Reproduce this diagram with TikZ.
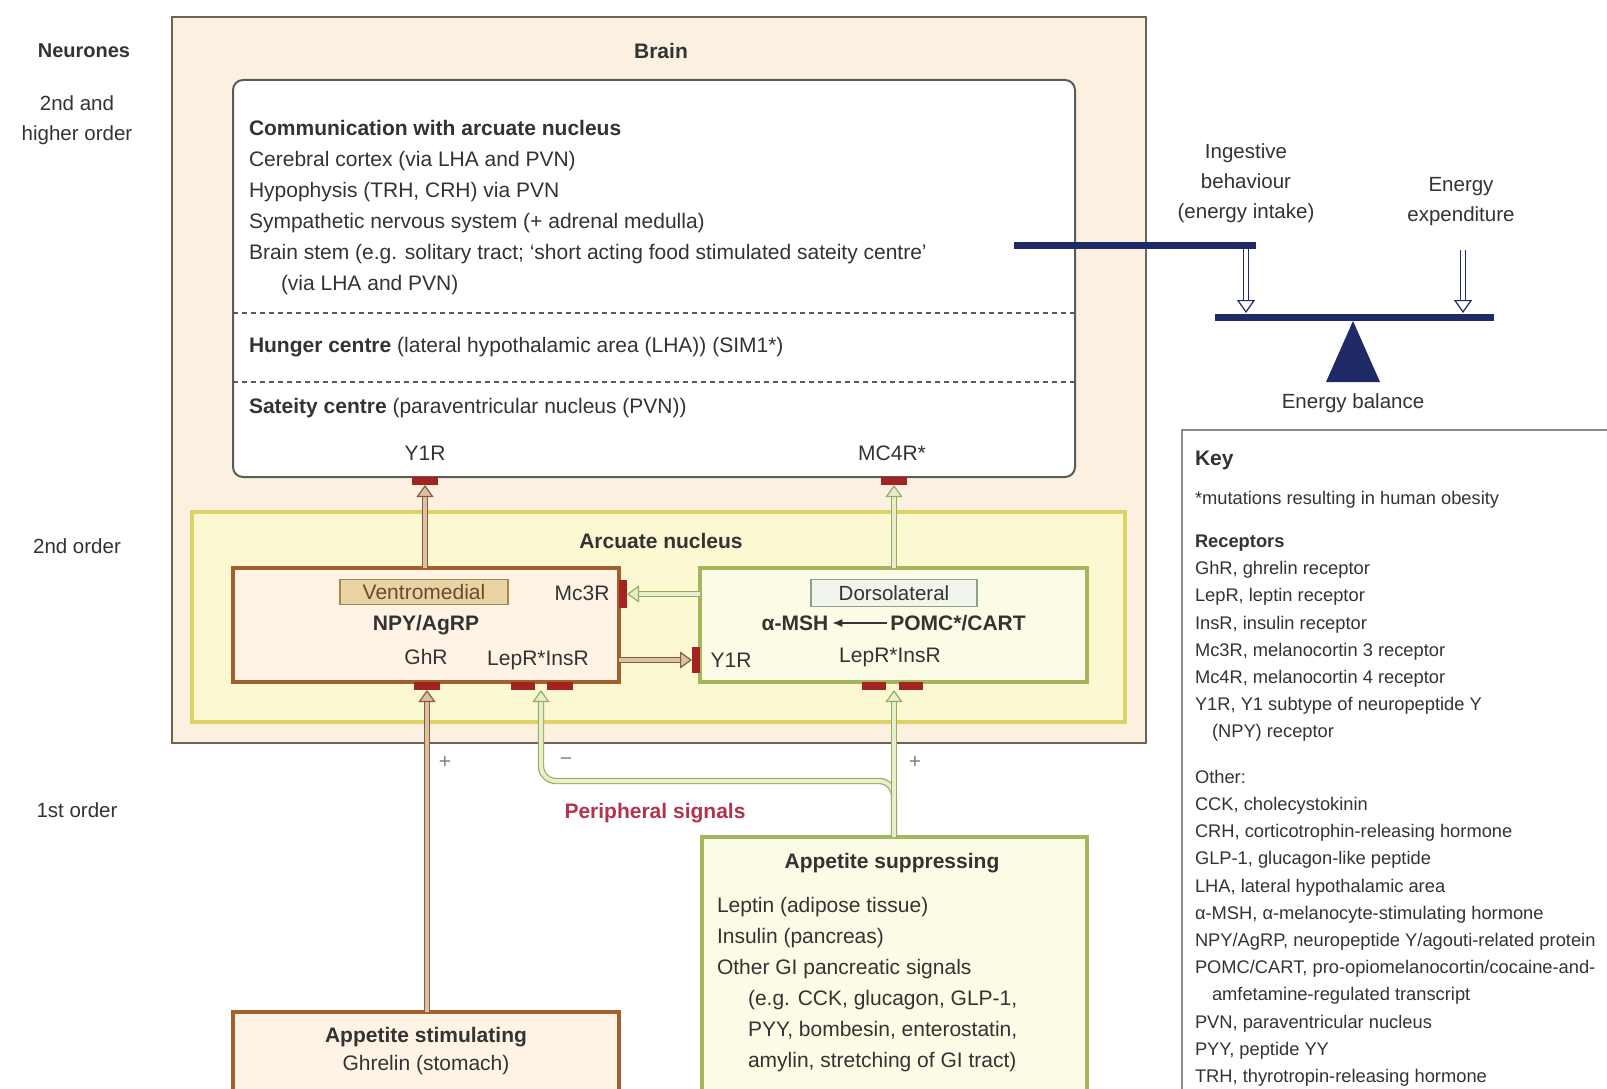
\documentclass[tikz,border=0pt]{standalone}
\usepackage{fontspec}
\setmainfont{Liberation Sans}
\usetikzlibrary{arrows.meta,calc}
\definecolor{brainfill}{HTML}{FCF1E1}
\definecolor{brainline}{HTML}{6E6252}
\definecolor{innerline}{HTML}{5A5A5A}
\definecolor{arcfill}{HTML}{FCF8D2}
\definecolor{arcline}{HTML}{DCD266}
\definecolor{vmfill}{HTML}{FEF3E4}
\definecolor{vmline}{HTML}{A0612E}
\definecolor{vmlabfill}{HTML}{E9D3A2}
\definecolor{vmlabline}{HTML}{A88652}
\definecolor{vmlabtext}{HTML}{6A4A30}
\definecolor{dlfill}{HTML}{FCFBE6}
\definecolor{dlline}{HTML}{A4B55E}
\definecolor{dllabfill}{HTML}{F1F5EC}
\definecolor{dllabline}{HTML}{8FA08A}
\definecolor{txtc}{HTML}{333333}
\definecolor{recred}{HTML}{A32222}
\definecolor{arrbrown}{HTML}{8C5B3A}
\definecolor{arrbrownfill}{HTML}{D9C2A5}
\definecolor{arrgreen}{HTML}{98AC60}
\definecolor{arrgreenfill}{HTML}{E7EECB}
\definecolor{navy}{HTML}{202A66}
\definecolor{periph}{HTML}{B3344A}
\definecolor{keyline}{HTML}{8A8A8A}
\begin{document}
\begin{tikzpicture}[x=1pt,y=-1pt,
  every node/.style={inner sep=0pt, outer sep=0pt},
  txt/.style={font=\fontsize{21}{31}\selectfont, text=txtc},
  btxt/.style={font=\fontsize{21}{31}\selectfont\bfseries, text=txtc},
  side/.style={font=\fontsize{20.5}{30}\selectfont, text=txtc, align=center},
  keytxt/.style={font=\fontsize{18.3}{27.2}\selectfont, text=txtc, align=left, anchor=north west},
  brainbox/.style={draw=brainline, line width=2.5pt, fill=brainfill},
  innerbox/.style={draw=innerline, line width=2pt, fill=white, rounded corners=10pt},
  arcbox/.style={draw=arcline, line width=3.5pt, fill=arcfill},
  vmbox/.style={draw=vmline, line width=3.5pt, fill=vmfill},
  dlbox/.style={draw=dlline, line width=3.5pt, fill=dlfill},
  vmlab/.style={draw=vmlabline, line width=1.2pt, fill=vmlabfill, text=vmlabtext, font=\fontsize{21}{24}\selectfont},
  dllab/.style={draw=dllabline, line width=1.2pt, fill=dllabfill, text=txtc, font=\fontsize{20.5}{24}\selectfont},
  rmark/.style={fill=recred, draw=none},
  dbl/.style={line width=1.2pt, double distance=4pt},
  brownarr/.style={dbl, draw=arrbrown, double=arrbrownfill, -{Triangle[open, length=12pt, width=17pt, fill=arrbrownfill]}},
  greenarr/.style={dbl, draw=arrgreen, double=arrgreenfill, -{Triangle[open, length=12pt, width=17pt, fill=arrgreenfill]}},
  navyarr/.style={dbl, draw=navy, double=white, -{Triangle[open, length=13pt, width=18pt, fill=white]}},
  navybar/.style={draw=navy, line width=7pt}
]
\useasboundingbox (0,0) rectangle (1607,1089);
\fill[white] (0,0) rectangle (1607,1089);

% left column labels
\node[side, font=\fontsize{20}{30}\selectfont\bfseries] (neur) at (84,51) {Neurones};
\node[side] (hord) at (77,120) {2nd and\\higher order};
\node[side] (sord) at (77,546) {2nd order};
\node[side] (ford) at (77,810) {1st order};

% brain
\node[brainbox, minimum width=974pt, minimum height=726pt, anchor=north west] (brain) at (172,17) {};
\node[btxt] (brainlab) at (661,51) {Brain};

% inner white box
\node[innerbox, minimum width=842pt, minimum height=397pt, anchor=north west] (inner) at (233,80) {};
\coordinate (d1) at (0,313);
\coordinate (d2) at (0,382);
\draw[innerline, line width=1.3pt, dash pattern=on 5pt off 4pt] (inner.west |- d1) -- (inner.east |- d1);
\draw[innerline, line width=1.3pt, dash pattern=on 5pt off 4pt] (inner.west |- d2) -- (inner.east |- d2);

\node[txt, align=left, anchor=north west] (comm) at (249,120) {\textbf{Communication with arcuate nucleus}\\
Cerebral cortex (via LHA and PVN)\\
Hypophysis (TRH, CRH) via PVN\\
Sympathetic nervous system (+ adrenal medulla)\\
Brain stem (e.g. solitary tract; ‘short acting food stimulated sateity centre’\\
\hspace*{32pt}(via LHA and PVN)};
\node[txt, anchor=west] (hunger) at (249,347) {\textbf{Hunger centre} (lateral hypothalamic area (LHA)) (SIM1*)};
\node[txt, anchor=west] (sateity) at (249,408) {\textbf{Sateity centre} (paraventricular nucleus (PVN))};
\node[txt] (y1rtop) at (425,453) {Y1R};
\node[txt] (mc4r) at (892,453) {MC4R*};

% arcuate nucleus
\node[arcbox, minimum width=933pt, minimum height=210pt, anchor=north west] (arc) at (192,512) {};
\node[btxt] (arclab) at (661,541) {Arcuate nucleus};

% ventromedial
\node[vmbox, minimum width=386pt, minimum height=114pt, anchor=north west] (vm) at (233,568) {};
\node[vmlab, minimum width=168pt, minimum height=25pt] (vml) at (424,592) {Ventromedial};
\node[btxt] (npy) at (426,625) {NPY/AgRP};
\node[txt] (ghr) at (426,657) {GhR};
\node[txt] (lepvm) at (538,660) {LepR*InsR};
\node[txt] (mc3r) at (582,593) {Mc3R};

% dorsolateral
\node[dlbox, minimum width=387pt, minimum height=114pt, anchor=north west] (dl) at (700,568) {};
\node[dllab, minimum width=166pt, minimum height=27pt] (dll) at (894,593) {Dorsolateral};
\node[btxt] (amsh) at (795,623) {α-MSH};
\node[btxt] (pomc) at (958,623) {POMC*/CART};
\node[txt] (lepdl) at (890,657) {LepR*InsR};
\node[txt] (y1rdl) at (731,660) {Y1R};
\draw[txtc, line width=1.5pt, -{Latex[length=10pt,width=8pt]}] (pomc.west) ++(-3,0) -- ([xshift=4pt]amsh.east);

% peripheral boxes
\node[vmbox, minimum width=386pt, minimum height=84pt, anchor=north west] (stim) at (233,1012) {};
\node[btxt] (stimlab) at (426,1037) {Appetite stimulating};
\node[txt] (ghrelin) at (426,1065) {Ghrelin (stomach)};

\node[dlbox, minimum width=385pt, minimum height=258pt, anchor=north west] (supp) at (702,837) {};
\node[btxt] (supplab) at (892,863) {Appetite suppressing};
\node[txt, align=left, anchor=north west] (supptxt) at (717,897) {Leptin (adipose tissue)\\
Insulin (pancreas)\\
Other GI pancreatic signals\\
\hspace*{31pt}(e.g. CCK, glucagon, GLP-1,\\
\hspace*{31pt}PYY, bombesin, enterostatin,\\
\hspace*{31pt}amylin, stretching of GI tract)};

\node[font=\fontsize{21}{31}\selectfont\bfseries, text=periph] (periph) at (655,813) {Peripheral signals};
\node[txt, text=gray] (plus1) at (445,762) {+};
\node[txt, text=gray] (minus1) at (566,762) {−};
\node[txt, text=gray] (plus2) at (915,762) {+};

% receptor marks
\node[rmark, minimum width=26pt, minimum height=8pt] (rm1) at (425,481) {};
\node[rmark, minimum width=26pt, minimum height=8pt] (rm2) at (894,481) {};
\node[rmark, minimum width=26pt, minimum height=8pt] (rm3) at (427,686) {};
\node[rmark, minimum width=24pt, minimum height=8pt] (rm4) at (523,686) {};
\node[rmark, minimum width=26pt, minimum height=8pt] (rm5) at (560,686) {};
\node[rmark, minimum width=24pt, minimum height=8pt] (rm6) at (874,686) {};
\node[rmark, minimum width=24pt, minimum height=8pt] (rm7) at (911,686) {};
\node[rmark, minimum width=8pt, minimum height=28pt] (rm8) at (623,594) {};
\node[rmark, minimum width=8pt, minimum height=26pt] (rm9) at (696,660) {};

% arrows inside brain
\draw[brownarr] (vm.north -| rm1) -- (rm1.south);
\draw[greenarr] (dl.north -| rm2) -- (rm2.south);
\draw[greenarr] (dl.west |- rm8) -- (rm8.east);
\draw[brownarr] (vm.east |- rm9) -- (rm9.west);

% peripheral arrows
\coordinate (brY) at (0,781);
\coordinate (brx) at ($(rm4.east)!0.5!(rm5.west)$);
\draw[greenarr, rounded corners=15pt] (supp.north -| rm2) -- (rm2 |- brY) -- (brx |- brY) -- (brx |- rm4.south);
\draw[greenarr] (supp.north -| rm2) -- (rm2 |- rm6.south);
\draw[brownarr] (stim.north -| rm3) -- (rm3.south);

% energy balance
\node[txt, align=center, font=\fontsize{20.5}{30}\selectfont] (ingest) at (1246,183) {Ingestive\\behaviour\\(energy intake)};
\node[txt, align=center, font=\fontsize{20.5}{30}\selectfont] (expend) at (1461,202) {Energy\\expenditure};
\coordinate (bar1a) at (1014,245);
\coordinate (bar1b) at (1256,245);
\draw[navybar] (bar1a) -- (bar1b);
\coordinate (seea) at (1215,317);
\coordinate (seeb) at (1494,317);
\draw[navybar] (seea) -- (seeb);
\coordinate (tria) at (1353,321);
\coordinate (trib) at (1326,382);
\coordinate (tric) at (1380,382);
\fill[navy] (tria) -- (trib) -- (tric) -- cycle;
\node[txt, font=\fontsize{20.5}{30}\selectfont] (ebal) at (1353,403) {Energy balance};
\coordinate (ar1a) at (1246,249);
\coordinate (ar1b) at (1246,313);
\coordinate (ar2a) at (1463,250);
\coordinate (ar2b) at (1463,313);
\draw[navyarr] (ar1a) -- (ar1b);
\draw[navyarr] (ar2a) -- (ar2b);

% key
\node[draw=keyline, line width=2pt, fill=white, minimum width=440pt, minimum height=680pt, anchor=north west] (key) at (1182,430) {};
\node[font=\fontsize{21}{24}\selectfont\bfseries, text=txtc, anchor=west] (keyt) at (1195,460) {Key};
\node[keytxt, anchor=west] (mut) at (1195,500) {*mutations resulting in human obesity};
\node[keytxt] (rec) at (1195,535) {\textbf{Receptors}\\
GhR, ghrelin receptor\\
LepR, leptin receptor\\
InsR, insulin receptor\\
Mc3R, melanocortin 3 receptor\\
Mc4R, melanocortin 4 receptor\\
Y1R, Y1 subtype of neuropeptide Y\\
\hspace*{17pt}(NPY) receptor};
\node[keytxt] (oth) at (1195,770) {Other:\\
CCK, cholecystokinin\\
CRH, corticotrophin-releasing hormone\\
GLP-1, glucagon-like peptide\\
LHA, lateral hypothalamic area\\
α-MSH, α-melanocyte-stimulating hormone\\
NPY/AgRP, neuropeptide Y/agouti-related protein\\
POMC/CART, pro-opiomelanocortin/cocaine-and-\\
\hspace*{17pt}amfetamine-regulated transcript\\
PVN, paraventricular nucleus\\
PYY, peptide YY\\
TRH, thyrotropin-releasing hormone};
\end{tikzpicture}
\end{document}
